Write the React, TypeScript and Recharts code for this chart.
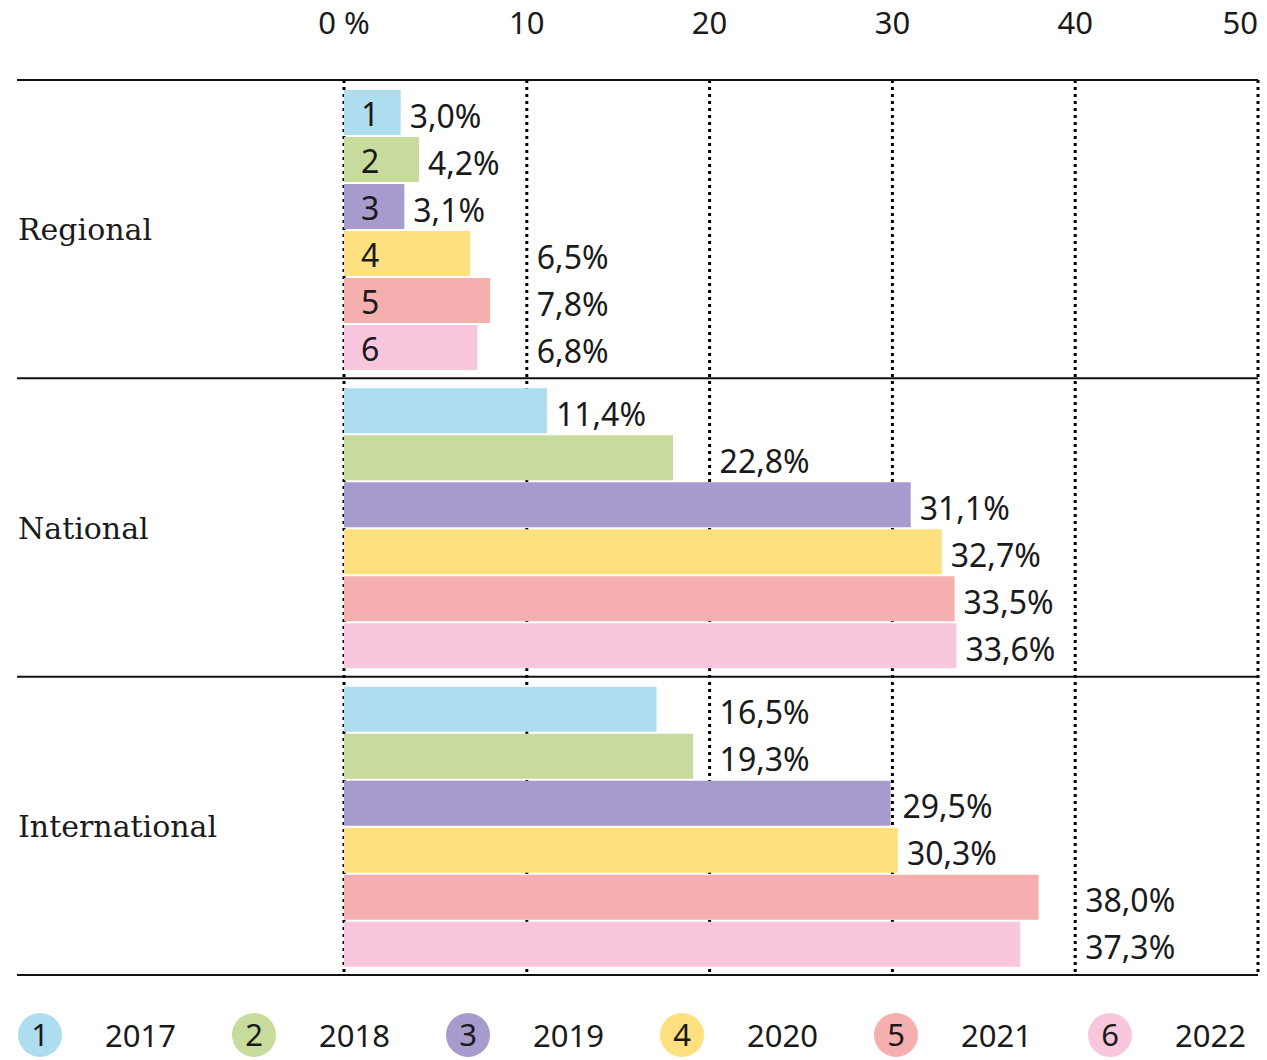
import { BarChart, Bar, XAxis, YAxis, CartesianGrid, ReferenceLine, LabelList, Legend } from 'recharts';

const categories = ['Regional', 'National', 'International'];
const years = ['2017', '2018', '2019', '2020', '2021', '2022'];
const colors = ['#AEDDF0', '#C6DB9C', '#A69BCC', '#FEE07E', '#F5AFAE', '#F8C7DD'];

// bar lengths as drawn, in %
const bars2017 = [3.1, 11.1, 17.1];
const bars2018 = [4.1, 18.0, 19.1];
const bars2019 = [3.3, 31.0, 29.9];
const bars2020 = [6.9, 32.7, 30.3];
const bars2021 = [8.0, 33.4, 38.0];
const bars2022 = [7.3, 33.5, 37.0];

// printed values next to the bars
const labels2017 = ['3,0%', '11,4%', '16,5%'];
const labels2018 = ['4,2%', '22,8%', '19,3%'];
const labels2019 = ['3,1%', '31,1%', '29,5%'];
const labels2020 = ['6,5%', '32,7%', '30,3%'];
const labels2021 = ['7,8%', '33,5%', '38,0%'];
const labels2022 = ['6,8%', '33,6%', '37,3%'];

const xTicks = [0, 10, 20, 30, 40, 50];

const allBars = [bars2017, bars2018, bars2019, bars2020, bars2021, bars2022];
const allLabels = [labels2017, labels2018, labels2019, labels2020, labels2021, labels2022];

const rows = categories.map((name, i) => {
  const row: Record<string, string | number> = { name };
  years.forEach((_, s) => {
    row['v' + s] = allBars[s][i];
    row['l' + s] = allLabels[s][i];
  });
  return row;
});

const W = 1267;
const H = 1060;
const Y_AXIS_W = 327;
const SANS = '"Noto Sans", "Open Sans", sans-serif';
const SERIF = '"DejaVu Serif", serif';
const INK = '#1a1a1a';
const PAD = 9;

function textWidth(s: string) {
  let w = 0;
  for (const ch of s) {
    if (ch === ',') w += 8.3;
    else if (ch === '%') w += 26.1;
    else w += 18.3;
  }
  return w;
}

function makeLabel(s: number) {
  return (props: any) => {
    const vb = props.viewBox || {};
    const x = Number(props.x ?? vb.x);
    const y = Number(props.y ?? vb.y);
    const width = Number(props.width ?? vb.width);
    const height = Number(props.height ?? vb.height);
    const index = props.index ?? 0;
    const text = String(props.value);
    const v = Number(rows[index]['v' + s]);
    const ppu = v > 0 ? width / v : 0;
    const end = x + width;
    const tw = textWidth(text);
    let left = end + PAD;
    // keep the label clear of the dotted gridlines
    for (const t of xTicks) {
      const gx = x + t * ppu;
      if (gx > end && gx < left + tw) left = Math.max(left, gx + PAD + 1);
    }
    return (
      <g>
        {index === 0 && (
          <text x={x + 17} y={y + height / 2 + 13} fontFamily={SANS} fontSize={32} fill={INK}>
            {s + 1}
          </text>
        )}
        <text x={left} y={y + height / 2 + 15} fontFamily={SANS} fontSize={32} fill={INK}>
          {text}
        </text>
      </g>
    );
  };
}

const XTick = (props: any) => {
  const { x, payload } = props;
  const v = payload.value;
  const last = v === xTicks[xTicks.length - 1];
  return (
    <text
      x={x}
      y={34}
      textAnchor={last ? 'end' : 'middle'}
      fontFamily={SANS}
      fontSize={31}
      fill={INK}
    >
      {v === 0 ? '0 %' : v}
    </text>
  );
};

const YTick = (props: any) => {
  const { y, payload } = props;
  return (
    <text x={18} y={y + 11} fontFamily={SERIF} fontSize={30} fill={INK}>
      {payload.value}
    </text>
  );
};

const Separator = (props: any) => (
  <line
    x1={props.x1 - Y_AXIS_W}
    x2={props.x2}
    y1={props.y1}
    y2={props.y2}
    stroke="#111"
    strokeWidth={2}
  />
);

const LegendContent = () => (
  <svg width={W} height={85} style={{ display: 'block' }}>
    {years.map((yr, i) => {
      const cx = 40 + i * 214;
      return (
        <g key={yr}>
          <circle cx={cx} cy={60} r={22} fill={colors[i]} />
          <text x={cx} y={71} textAnchor="middle" fontFamily={SANS} fontSize={31} fill={INK}>
            {i + 1}
          </text>
          <text x={cx + 65} y={72} fontFamily={SANS} fontSize={31} fill={INK}>
            {yr}
          </text>
        </g>
      );
    })}
  </svg>
);

export default function App() {
  return (
    <div style={{ position: 'absolute', left: 0, top: 0, width: W, height: H, background: '#fff' }}>
      <BarChart
        width={W}
        height={H}
        data={rows}
        layout="vertical"
        margin={{ top: 0, right: 9, bottom: 0, left: 17 }}
        barCategoryGap={10}
        barGap={2}
      >
        <CartesianGrid
          horizontal={false}
          stroke="#000"
          strokeWidth={3}
          strokeDasharray="3 4"
        />
        <XAxis
          type="number"
          orientation="top"
          domain={[0, 50]}
          ticks={xTicks}
          height={80}
          axisLine={false}
          tickLine={false}
          tick={<XTick />}
          interval={0}
        />
        <YAxis
          type="category"
          dataKey="name"
          width={Y_AXIS_W}
          axisLine={false}
          tickLine={false}
          tick={<YTick />}
        />
        {years.map((yr, s) => (
          <Bar key={yr} dataKey={'v' + s} name={yr} fill={colors[s]} isAnimationActive={false}>
            <LabelList dataKey={'l' + s} content={makeLabel(s)} />
          </Bar>
        ))}
        {categories.map((c) => (
          <ReferenceLine key={c} y={c} position="start" shape={<Separator />} />
        ))}
        <ReferenceLine y={categories[categories.length - 1]} position="end" shape={<Separator />} />
        <Legend
          verticalAlign="bottom"
          content={<LegendContent />}
          wrapperStyle={{ left: 0, width: W, height: 85 }}
        />
      </BarChart>
    </div>
  );
}
